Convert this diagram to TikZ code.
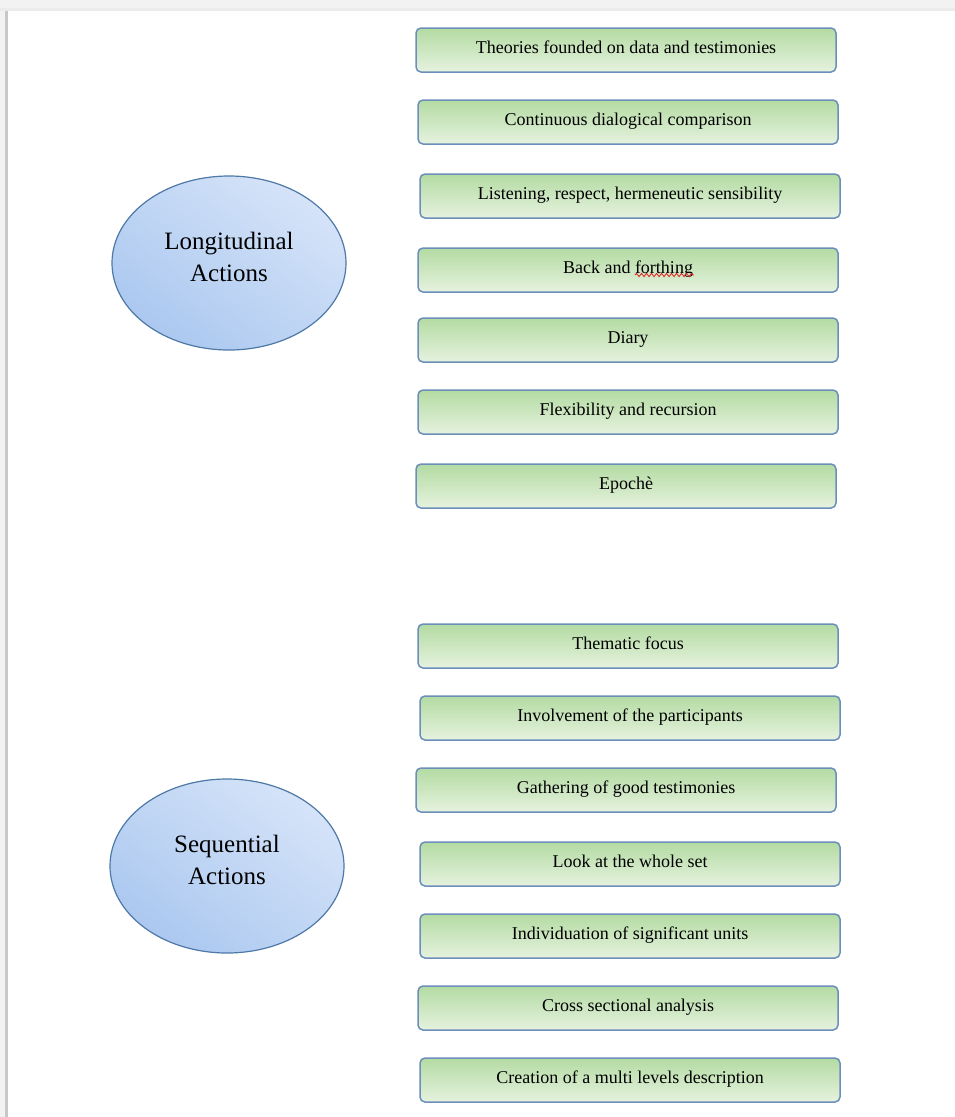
\documentclass[tikz,border=0pt]{standalone}
\usepackage{fontspec}
\setmainfont{Liberation Serif}
\definecolor{boxborder}{HTML}{6B8FBA}
\definecolor{boxtop}{HTML}{B3DBA2}
\definecolor{boxbot}{HTML}{E6F2DF}
\definecolor{ellborder}{HTML}{4E79A7}
\definecolor{elldark}{HTML}{A3C2EE}
\definecolor{ellmid}{HTML}{C0D6F4}
\definecolor{elllight}{HTML}{DEE9FA}
\definecolor{pagegray}{HTML}{F2F2F2}
\definecolor{edgegray}{HTML}{C8C8C8}
\definecolor{spellred}{HTML}{E02020}
\usetikzlibrary{shapes.geometric,decorations.pathmorphing,shadings}
\tikzset{
  itembox/.style={draw=boxborder, line width=1.5pt, rounded corners=5pt,
    top color=boxtop, bottom color=boxbot,
    minimum width=420pt, minimum height=44pt, inner sep=0pt,
    text height=14pt, text depth=8pt,
    font=\fontsize{18}{22}\selectfont},
  actell/.style={ellipse, draw=ellborder, line width=1.2pt,
    upper left=ellmid, upper right=elllight, lower left=elldark, lower right=ellmid,
    minimum width=234pt, minimum height=174pt, inner sep=0pt},
  elltext/.style={align=center, inner sep=0pt, font=\fontsize{25}{32}\selectfont},
  squiggle/.style={draw=spellred, line width=0.8pt,
    decorate, decoration={snake, amplitude=1.6pt, segment length=5pt}}
}
\begin{document}
\begin{tikzpicture}[x=1pt,y=-1pt]
\useasboundingbox (0,0) rectangle (955,1117);
\fill[pagegray] (0,0) rectangle (955,1117);
\fill[edgegray] (5,9) rectangle (8,1117);
\fill[white] (8,11) rectangle (955,1117);
\fill[black!8] (0,8) rectangle (955,11);

\node[actell] (long) at (229,263) {};
\node[elltext] (longtxt) at ([yshift=6pt]long.center) {Longitudinal\\Actions};
\node[actell] (seq) at (227,866) {};
\node[elltext] (seqtxt) at ([yshift=6pt]seq.center) {Sequential\\Actions};

\node[itembox] (b1) at (626,50) {Theories founded on data and testimonies};
\node[itembox] (b2) at (628,122) {Continuous dialogical comparison};
\node[itembox] (b3) at (630,196) {Listening, respect, hermeneutic sensibility};
\node[itembox] (b4) at (628,270) {Back and forthing};
\node[itembox] (b5) at (628,340) {Diary};
\node[itembox] (b6) at (628,412) {Flexibility and recursion};
\node[itembox] (b7) at (626,486) {Epochè};

\coordinate (w1) at ([xshift=7pt,yshift=-5pt]b4.center);
\coordinate (w2) at ([xshift=66pt,yshift=-5pt]b4.center);
\path[squiggle] (w1) -- (w2);

\node[itembox] (c1) at (628,646) {Thematic focus};
\node[itembox] (c2) at (630,718) {Involvement of the participants};
\node[itembox] (c3) at (626,790) {Gathering of good testimonies};
\node[itembox] (c4) at (630,864) {Look at the whole set};
\node[itembox] (c5) at (630,936) {Individuation of significant units};
\node[itembox] (c6) at (628,1008) {Cross sectional analysis};
\node[itembox] (c7) at (630,1080) {Creation of a multi levels description};
\end{tikzpicture}
\end{document}
